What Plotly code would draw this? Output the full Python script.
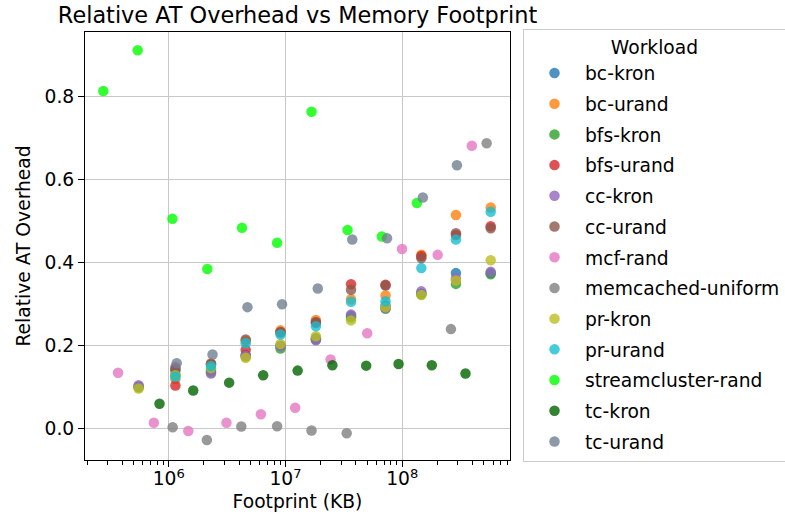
import plotly.graph_objects as go

# Workload names and their marker colours (drawn in this order, later on top)
workloads = [
    "bc-kron", "bc-urand", "bfs-kron", "bfs-urand", "cc-kron", "cc-urand",
    "mcf-rand", "memcached-uniform", "pr-kron", "pr-urand",
    "streamcluster-rand", "tc-kron", "tc-urand",
]
colors = [
    "#1f77b4", "#ff7f0e", "#2ca02c", "#d62728", "#9467bd", "#8c564b",
    "#e377c2", "#7f7f7f", "#bcbd22", "#17becf",
    "#00ff00", "#006400", "#708090",
]

# Footprints (KB) of the GAP graph inputs
kron_fp = [5.52e5, 1.14e6, 2.30e6, 4.56e6, 9.06e6, 1.82e7, 3.64e7, 7.19e7, 1.456e8, 2.88e8, 5.72e8]
urand_fp = [1.14e6, 2.30e6, 4.56e6, 9.06e6, 1.82e7, 3.64e7, 7.19e7, 1.456e8, 2.88e8, 5.72e8]

bc_kron = [0.102, 0.140, 0.140, 0.178, 0.200, 0.218, 0.272, 0.297, 0.326, 0.375, 0.375]
bc_urand = [0.120, 0.158, 0.212, 0.237, 0.262, 0.312, 0.321, 0.419, 0.515, 0.533]
bfs_kron = [0.100, 0.130, 0.136, 0.174, 0.193, 0.215, 0.268, 0.289, 0.324, 0.349, 0.372]
bfs_urand = [0.104, 0.155, 0.190, 0.232, 0.255, 0.348, 0.347, 0.416, 0.467, 0.488]
cc_kron = [0.105, 0.149, 0.133, 0.176, 0.199, 0.213, 0.275, 0.291, 0.331, 0.362, 0.378]
cc_urand = [0.144, 0.156, 0.215, 0.233, 0.257, 0.335, 0.345, 0.411, 0.471, 0.483]
pr_kron = [0.097, 0.129, 0.146, 0.171, 0.204, 0.223, 0.261, 0.293, 0.322, 0.357, 0.406]
pr_urand = [0.125, 0.151, 0.206, 0.227, 0.247, 0.306, 0.307, 0.387, 0.456, 0.523]

mcf_fp = [3.68e5, 7.45e5, 1.47e6, 3.12e6, 6.15e6, 1.21e7, 2.43e7, 5.01e7, 9.95e7, 2.01e8, 3.94e8]
mcf_rand = [0.135, 0.0145, -0.0055, 0.0145, 0.0347, 0.0506, 0.167, 0.230, 0.433, 0.419, 0.682]

memcached_fp = [1.08e6, 2.12e6, 4.18e6, 8.47e6, 1.67e7, 3.34e7, 2.61e8, 5.28e8]
memcached_uniform = [0.0034, -0.027, 0.0053, 0.006, -0.0043, -0.011, 0.240, 0.688]

streamcluster_fp = [2.75e5, 5.42e5, 1.075e6, 2.14e6, 4.24e6, 8.47e6, 1.67e7, 3.40e7, 6.68e7, 1.334e8]
streamcluster_rand = [0.814, 0.912, 0.506, 0.385, 0.484, 0.448, 0.764, 0.479, 0.463, 0.544]

tc_kron_fp = [8.33e5, 1.62e6, 3.29e6, 6.44e6, 1.27e7, 2.52e7, 4.91e7, 9.29e7, 1.79e8, 3.48e8]
tc_kron = [0.060, 0.092, 0.111, 0.129, 0.140, 0.153, 0.152, 0.156, 0.153, 0.133]

tc_urand_fp = [1.17e6, 2.37e6, 4.72e6, 9.34e6, 1.89e7, 3.73e7, 7.41e7, 1.50e8, 2.94e8]
tc_urand = [0.158, 0.179, 0.293, 0.300, 0.338, 0.456, 0.459, 0.557, 0.635]

series = [
    (kron_fp, bc_kron), (urand_fp, bc_urand),
    (kron_fp, bfs_kron), (urand_fp, bfs_urand),
    (kron_fp, cc_kron), (urand_fp, cc_urand),
    (mcf_fp, mcf_rand), (memcached_fp, memcached_uniform),
    (kron_fp, pr_kron), (urand_fp, pr_urand),
    (streamcluster_fp, streamcluster_rand),
    (tc_kron_fp, tc_kron), (tc_urand_fp, tc_urand),
]

FONT = "DejaVu Sans"
TEXT_SIZE = 18.7

fig = go.Figure()
for name, color, (xs, ys) in zip(workloads, colors, series):
    fig.add_trace(go.Scatter(
        x=xs, y=ys, mode="markers", name=name, legendgroup=name,
        marker=dict(size=10.5, color=color, opacity=0.8, line=dict(width=0)),
    ))

fig.update_layout(
    width=785, height=525,
    margin=dict(l=85, r=272, t=32, b=65),
    paper_bgcolor="white", plot_bgcolor="white",
    font=dict(family=FONT, size=TEXT_SIZE, color="black"),
    title=dict(
        text="Relative AT Overhead vs Memory Footprint",
        font=dict(family=FONT, size=22.4, color="black"),
        x=0.5, xref="paper", xanchor="center",
        y=1 - 15 / 525, yref="container", yanchor="middle",
    ),
    legend=dict(
        title=dict(text="Workload", side="top center", font=dict(family=FONT, size=TEXT_SIZE)),
        font=dict(family=FONT, size=TEXT_SIZE, color="black"),
        xref="container", yref="container",
        x=523 / 785, xanchor="left", y=1 - 29 / 525, yanchor="top",
        bordercolor="#cccccc", borderwidth=1, bgcolor="white",
        tracegroupgap=3.4, itemwidth=51, maxheight=490,
    ),
    showlegend=True,
)

fig.update_xaxes(
    type="log", range=[5.2826, 8.9226],
    tickvals=[1e6, 1e7, 1e8],
    ticktext=["10<sup>6</sup>", "10<sup>7</sup>", "10<sup>8</sup>"],
    tickfont=dict(family=FONT, size=TEXT_SIZE),
    ticklabelstandoff=-4,
    ticks="outside", ticklen=6, tickcolor="black", tickwidth=1,
    minor=dict(ticks="outside", ticklen=3.5, tickcolor="black", dtick="D1", showgrid=False),
    showgrid=True, gridcolor="#c8c8c8", gridwidth=1,
    showline=True, linecolor="black", linewidth=1, mirror=True,
    zeroline=False,
    title=dict(text="Footprint (KB)", standoff=6, font=dict(family=FONT, size=TEXT_SIZE)),
)
fig.update_yaxes(
    range=[-0.0754, 0.956],
    tickvals=[0.0, 0.2, 0.4, 0.6, 0.8], tickformat=".1f",
    tickfont=dict(family=FONT, size=TEXT_SIZE),
    ticks="outside", ticklen=6, tickcolor="black", tickwidth=1,
    showgrid=True, gridcolor="#c8c8c8", gridwidth=1,
    showline=True, linecolor="black", linewidth=1, mirror=True,
    zeroline=False,
    title=dict(text="Relative AT Overhead", standoff=8, font=dict(family=FONT, size=TEXT_SIZE)),
)

fig.write_html("out.html")
